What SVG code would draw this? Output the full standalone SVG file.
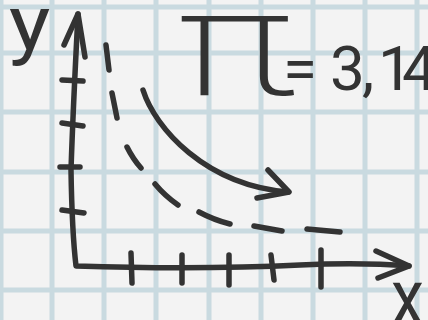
<svg xmlns="http://www.w3.org/2000/svg" width="428" height="320" viewBox="0 0 428 320">
  <style>
    .grid line { stroke: #c9dae0; stroke-width: 5; }
    .ink { fill: none; stroke: #333333; stroke-width: 5.5; stroke-linecap: round; stroke-linejoin: round; }
    .hand { fill: #333333; font-family: Roboto, "Noto Sans", sans-serif; }
  </style>
  <rect width="428" height="320" fill="#f3f3f3"/>
  <g id="grid" class="grid">
    <line x1="1" y1="0" x2="1" y2="320"/>
    <line x1="52" y1="0" x2="52" y2="320"/>
    <line x1="104" y1="0" x2="104" y2="320"/>
    <line x1="156" y1="0" x2="156" y2="320"/>
    <line x1="209" y1="0" x2="209" y2="320"/>
    <line x1="261" y1="0" x2="261" y2="320"/>
    <line x1="313" y1="0" x2="313" y2="320"/>
    <line x1="365" y1="0" x2="365" y2="320"/>
    <line x1="417" y1="0" x2="417" y2="320"/>
    <line x1="0" y1="7" x2="428" y2="7"/>
    <line x1="0" y1="53" x2="428" y2="53"/>
    <line x1="0" y1="112" x2="428" y2="112"/>
    <line x1="0" y1="172" x2="428" y2="172"/>
    <line x1="0" y1="231" x2="428" y2="231"/>
    <line x1="0" y1="290" x2="428" y2="290"/>
  </g>
  <g id="axes" class="ink">
    <path d="M78,14 Q73,110 71,170 Q72,232 76,266 Q200,270 300,265 Q360,262 409,266"/>
    <path d="M64,45 L78,14 L85,57"/>
    <path d="M376,251 L409,266 L378,278"/>
    <path d="M62,80 L83,81 M62,123 L83,126 M60,167 L80,167 M62,210 L84,213"/>
    <path d="M131,253 L132,283 M182,255 L182,283 M229,255 L229,285 M271,255 L274,280 M321,250 L321,287"/>
  </g>
  <g id="connectors" class="ink">
    <path d="M106,45 L109,70 M112,93 L117,118 M127,147 Q133,159 141,168 M155,184 Q165,196 178,205 M199,212 Q214,220 230,224 M254,226 L282,231 M307,229 L340,232"/>
    <path d="M143,90 C155,128 205,185 288,192"/>
    <path d="M268,170 L289,192 L257,198"/>
  </g>
  <g id="labels">
    <text class="hand" x="0" y="0" font-size="76" transform="translate(9,49) scale(1.15,1)">y</text>
    <text class="hand" x="0" y="0" font-size="78" transform="translate(391,324) scale(0.85,1)">x</text>
    <text class="hand" x="0" y="0" font-size="150" font-weight="200" transform="translate(176,95) scale(1.35,1)">π</text>
    <text class="hand" font-size="62" x="283 330 362 378 402" y="90">=3,14</text>
  </g>
</svg>
